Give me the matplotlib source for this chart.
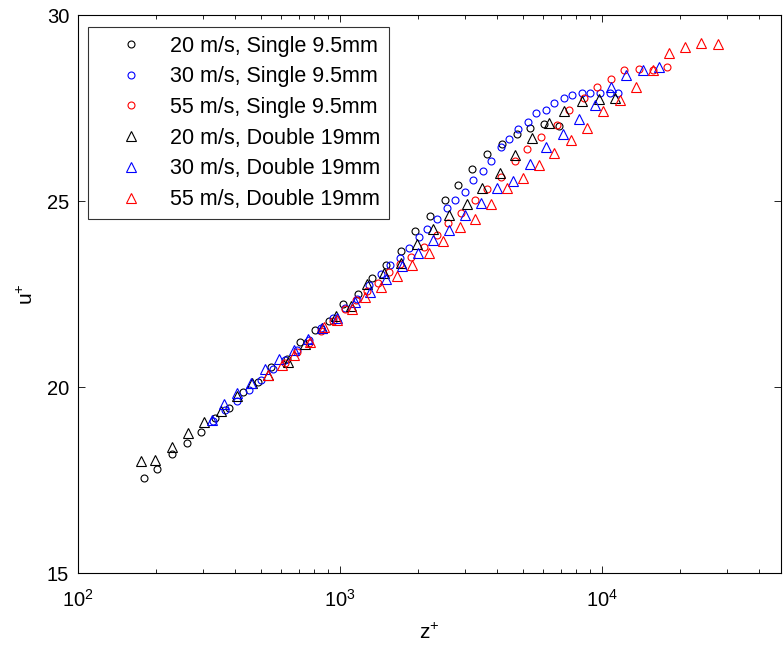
import matplotlib
matplotlib.use('Agg')
import matplotlib.pyplot as plt
import numpy as np

plt.rcParams['font.family'] = ['Liberation Sans', 'DejaVu Sans']
plt.rcParams['mathtext.fontset'] = 'custom'
plt.rcParams['mathtext.rm'] = 'Liberation Sans'
plt.rcParams['mathtext.it'] = 'Liberation Sans:italic'
plt.rcParams['mathtext.default'] = 'regular'

# 20 m/s, Single 9.5mm
z_s20 = [179, 201, 230, 262, 296, 335, 379, 428, 489, 548, 630, 707, 806, 912, 1031,
         1177, 1330, 1505, 1717, 1942, 2216, 2527, 2834, 3204, 3656, 4171, 4759, 5335, 6033, 6884]
u_s20 = [17.56, 17.80, 18.21, 18.50, 18.80, 19.17, 19.44, 19.87, 20.14, 20.55, 20.76, 21.22, 21.54, 21.78, 22.24,
         22.51, 22.94, 23.29, 23.66, 24.20, 24.60, 25.03, 25.44, 25.87, 26.27, 26.54, 26.81, 26.97, 27.08, 27.02]

# 30 m/s, Single 9.5mm
z_s30 = [329, 366, 406, 452, 502, 558, 619, 689, 765, 850, 945, 1050, 1166, 1296, 1440, 1558, 1702,
         1842, 2011, 2158, 2356, 2572, 2760, 3013, 3232, 3529, 3786, 4135, 4436, 4801, 5242, 5623,
         6140, 6588, 7194, 7717, 8425, 9040, 9869, 10776, 11560]
u_s30 = [19.09, 19.39, 19.63, 19.93, 20.20, 20.49, 20.73, 21.00, 21.27, 21.59, 21.86, 22.13, 22.37, 22.75, 23.05, 23.29, 23.48,
         23.74, 24.04, 24.26, 24.52, 24.82, 25.03, 25.25, 25.57, 25.81, 26.08, 26.46, 26.67, 26.94, 27.13, 27.37,
         27.45, 27.64, 27.78, 27.86, 27.91, 27.91, 27.91, 27.91, 27.91]

# 55 m/s, Single 9.5mm
z_s55 = [619, 689, 765, 850, 945, 1050, 1156, 1273, 1403, 1545, 1702, 1875, 2101, 2356, 2594, 2909,
         3289, 3656, 4135, 4676, 5196, 5876, 6765, 7516, 8574, 9612, 10872, 12190, 13908, 15727, 17783]
u_s55 = [20.65, 20.95, 21.19, 21.51, 21.78, 22.10, 22.35, 22.59, 22.80, 23.10, 23.31, 23.50, 23.77, 24.09, 24.42, 24.69,
         25.03, 25.33, 25.65, 26.08, 26.41, 26.73, 27.05, 27.45, 27.78, 28.07, 28.29, 28.53, 28.56, 28.53, 28.61]

# 20 m/s, Double 19mm
z_d20 = [175, 198, 230, 264, 304, 353, 406, 463, 534, 636, 738, 858, 970, 1106, 1273, 1479, 1717,
         1976, 2275, 2617, 3066, 3499, 4099, 4676, 5430, 6303, 7194, 8425, 9783, 11260]
u_d20 = [18.02, 18.05, 18.40, 18.77, 19.07, 19.36, 19.77, 20.12, 20.33, 20.68, 21.16, 21.59, 21.92, 22.19, 22.78, 23.07, 23.34,
         23.85, 24.26, 24.63, 24.93, 25.36, 25.76, 26.24, 26.70, 27.10, 27.43, 27.70, 27.75, 27.78]

# 30 m/s, Double 19mm
z_d30 = [326, 362, 406, 460, 520, 588, 671, 758, 858, 978, 1146, 1307, 1505, 1732, 1994, 2275, 2617,
         3013, 3468, 3992, 4595, 5335, 6140, 7131, 8205, 9445, 10872, 12406, 14405, 16579]
u_d30 = [19.12, 19.55, 19.85, 20.12, 20.49, 20.76, 21.00, 21.30, 21.59, 21.86, 22.29, 22.56, 22.91, 23.26, 23.61, 23.96, 24.23,
         24.63, 24.95, 25.36, 25.55, 26.00, 26.46, 26.81, 27.21, 27.59, 28.07, 28.40, 28.53, 28.61]

# 55 m/s, Double 19mm
z_d55 = [534, 603, 671, 772, 873, 978, 1116, 1251, 1440, 1658, 1891, 2196, 2483, 2884, 3289, 3786,
         4359, 5017, 5773, 6588, 7649, 8803, 10132, 11767, 13546, 15727, 18098, 20833, 23988, 27840]
u_d55 = [20.33, 20.60, 20.87, 21.22, 21.62, 21.81, 22.10, 22.43, 22.70, 23.00, 23.29, 23.61, 23.93, 24.31, 24.52, 24.93,
         25.36, 25.63, 25.98, 26.30, 26.65, 26.97, 27.43, 27.72, 28.07, 28.53, 28.99, 29.15, 29.26, 29.23]

series = [
    (z_s20, u_s20, 'o', 'k', '20 m/s, Single 9.5mm'),
    (z_s30, u_s30, 'o', 'b', '30 m/s, Single 9.5mm'),
    (z_s55, u_s55, 'o', 'r', '55 m/s, Single 9.5mm'),
    (z_d20, u_d20, '^', 'k', '20 m/s, Double 19mm'),
    (z_d30, u_d30, '^', 'b', '30 m/s, Double 19mm'),
    (z_d55, u_d55, '^', 'r', '55 m/s, Double 19mm'),
]

fig = plt.figure(figsize=(7.83, 6.48), dpi=100)
ax = fig.add_axes([0.099, 0.1153, 0.8985, 0.8611])

for z, u, m, c, lab in series:
    ms = 5 if m == 'o' else 7
    ax.plot(z, u, linestyle='none', marker=m, markersize=ms, markerfacecolor='none',
            markeredgecolor=c, markeredgewidth=0.8, label=lab)

ax.set_xscale('log')
ax.set_xlim(100, 48400)
ax.set_ylim(15, 30)
ax.set_yticks([15, 20, 25, 30])

ax.tick_params(which='both', direction='in', top=True, right=True, labelsize=14.5, width=0.6)
ax.tick_params(which='major', length=5)
ax.tick_params(which='minor', length=3)
ax.tick_params(axis='x', which='major', pad=11)
ax.tick_params(axis='y', which='major', pad=6)
for s in ax.spines.values():
    s.set_linewidth(0.8)

ax.set_xlabel('z$^{+}$', fontsize=15, labelpad=9)
ax.set_ylabel('u$^{+}$', fontsize=15, labelpad=7)

leg = ax.legend(loc='upper left', bbox_to_anchor=(0.015, 0.979), borderaxespad=0,
                fontsize=15.5, frameon=True, fancybox=False, edgecolor='k',
                handlelength=3.2, handletextpad=0.2, borderpad=0.4, labelspacing=0.45)
leg.get_frame().set_linewidth(0.8)

plt.savefig('out.png', dpi=100)
